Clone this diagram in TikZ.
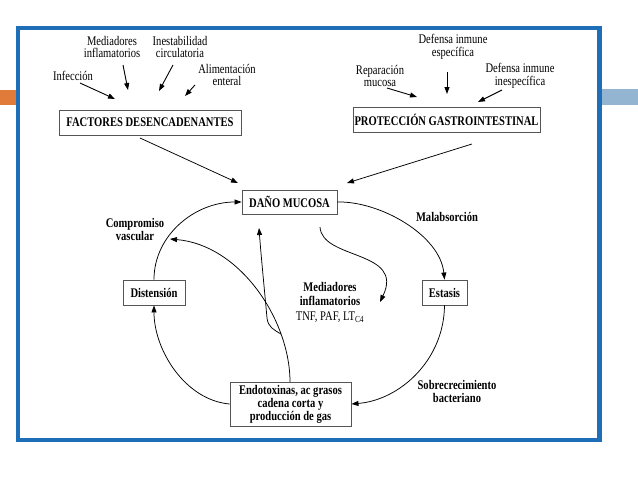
\documentclass[tikz,border=0pt]{standalone}
\usepackage{fontspec}
\setmainfont{Liberation Serif}[FakeStretch=0.8]
\usetikzlibrary{arrows.meta}
\definecolor{frameblue}{HTML}{1F6EB8}
\definecolor{barorange}{HTML}{E07B39}
\definecolor{barblue}{HTML}{94B5D1}
\definecolor{boxgray}{HTML}{555555}
\begin{document}
\begin{tikzpicture}[x=1pt,y=-1pt,
  lbl/.style={align=center,font=\fontsize{13.2}{12.5}\selectfont,inner sep=0pt},
  blbl/.style={align=center,font=\fontsize{13.2}{13}\selectfont\bfseries,inner sep=0pt},
  boxnode/.style={draw=boxgray,line width=0.9pt,align=center,inner sep=0pt,font=\fontsize{13.2}{12}\selectfont\bfseries},
  arr/.style={-{Triangle[length=7pt,width=5pt]},line width=0.9pt},
  cyc/.style={-{Triangle[length=7pt,width=5pt]},line width=0.75pt},
]
\path[use as bounding box,fill=white] (0,0) rectangle (638,479);
% side bars and frame
\fill[barorange] (0,90) rectangle (18,105);
\fill[barblue] (600,89) rectangle (638,105);
\draw[frameblue,line width=4.5pt] (18,28) rectangle (599.5,440);

% boxes
\node[boxnode,minimum width=182pt,minimum height=25pt] (fac) at (150,122.5) {FACTORES DESENCADENANTES};
\node[boxnode,minimum width=187pt,minimum height=25pt] (pro) at (446.5,119.5) {PROTECCIÓN GASTROINTESTINAL};
\node[boxnode,minimum width=95pt,minimum height=24pt] (dano) at (289.5,202) {DAÑO MUCOSA};
\node[boxnode,minimum width=45pt,minimum height=25pt] (estasis) at (444.5,292.5) {Estasis};
\node[boxnode,minimum width=62pt,minimum height=25pt] (dist) at (154,292.5) {Distensión};
\node[boxnode,minimum width=121pt,minimum height=44pt] (endo) at (290.5,404) {Endotoxinas, ac grasos\\cadena corta y\\producción de gas};

% top labels
\node[lbl] (lmed) at (112,47) {Mediadores\\inflamatorios};
\node[lbl] (linest) at (180,47) {Inestabilidad\\circulatoria};
\node[lbl] (linf) at (73,76) {Infección};
\node[lbl] (lali) at (227,75) {Alimentación\\enteral};
\node[lbl] (ldefesp) at (453,47) {Defensa inmune\\específica};
\node[lbl] (lrep) at (380,76) {Reparación\\mucosa};
\node[lbl] (ldefin) at (520,76) {Defensa inmune\\inespecífica};

% cycle labels
\node[blbl] (lcomp) at (135,229.5) {Compromiso\\vascular};
\node[blbl] (lmal) at (447,217) {Malabsorción};
\node[align=center,inner sep=0pt,font=\fontsize{13.2}{14.5}\selectfont] (lmedc) at (330,302)
  {\textbf{Mediadores}\\\textbf{inflamatorios}\\TNF, PAF, LT\textsubscript{C4}};
\node[blbl] (lsob) at (457,391) {Sobrecrecimiento\\bacteriano};

% arrow end coordinates
\coordinate (a1s) at (80,83);   \coordinate (a1e) at (115,99);
\coordinate (a2s) at (123,65);  \coordinate (a2e) at (128,90);
\coordinate (a3s) at (173,65);  \coordinate (a3e) at (159,91);
\coordinate (a4s) at (195,85);  \coordinate (a4e) at (185,96);
\coordinate (b1s) at (447,72);  \coordinate (b1e) at (447,94);
\coordinate (b2s) at (387,88);  \coordinate (b2e) at (417,97);
\coordinate (b3s) at (502,90);  \coordinate (b3e) at (478,102);
\coordinate (fs) at (140,138);  \coordinate (fe) at (238,183);
\coordinate (ps) at (472,144);  \coordinate (pe) at (347,183);

\draw[arr] (a1s) -- (a1e);
\draw[arr] (a2s) -- (a2e);
\draw[arr] (a3s) -- (a3e);
\draw[arr] (a4s) -- (a4e);
\draw[arr] (b1s) -- (b1e);
\draw[arr] (b2s) -- (b2e);
\draw[arr] (b3s) -- (b3e);
\draw[cyc] (fs) -- (fe);
\draw[cyc] (ps) -- (pe);

% cycle
\draw[cyc] (dano.east) .. controls (380,201) and (440,235) .. (estasis.north);
\draw[cyc] (estasis.south) .. controls (444,360) and (400,400) .. (endo.east);
\draw[cyc] (endo.west) .. controls (185,400) and (154,350) .. (dist.south);
\draw[cyc] (dist.north) .. controls (154,235) and (195,202) .. (dano.west);

% mediadores curve
\coordinate (ms) at (320,227);
\coordinate (me) at (380,302);
\draw[cyc] (ms) .. controls (322,260) and (405,250) .. (me);

% endotoxinas to compromiso vascular
\coordinate (ctop) at (290,382);
\coordinate (ce) at (170,239);
\draw[cyc] (ctop) .. controls (290,320) and (240,245) .. (ce);

% branch up to dano
\coordinate (br) at (281,334);
\coordinate (be) at (259,228);
\draw[cyc] (br) .. controls (274,330) and (268,327) .. (267,318)
  .. controls (264,285) and (261,255) .. (be);
\end{tikzpicture}
\end{document}
